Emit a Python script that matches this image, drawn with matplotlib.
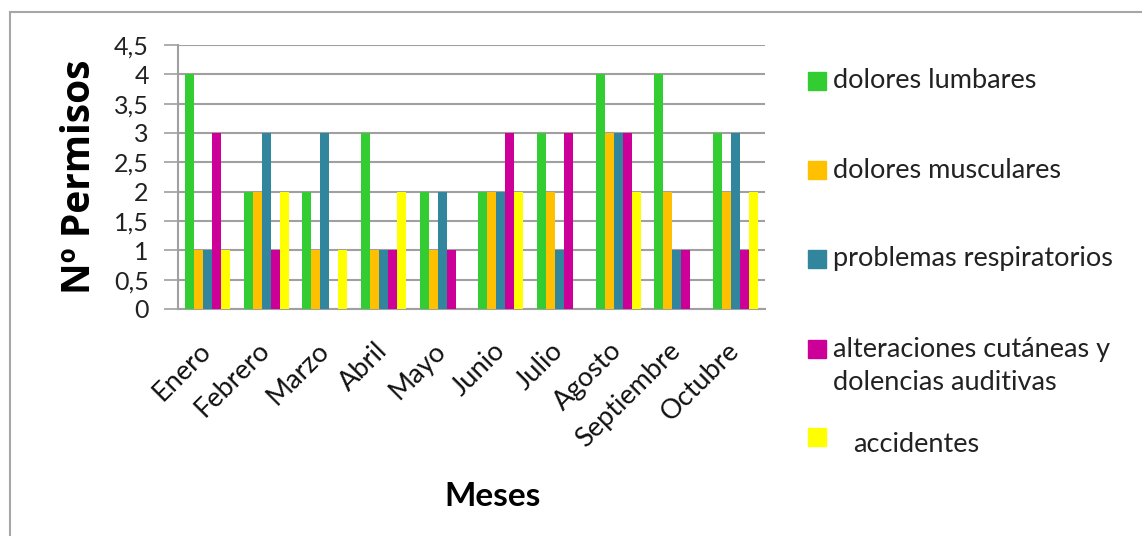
import numpy as np
import matplotlib
matplotlib.use("Agg")
import matplotlib.pyplot as plt
from matplotlib.patches import Rectangle
from matplotlib.lines import Line2D

plt.rcParams['font.family'] = ['Lato', 'DejaVu Sans']

# months and counts per category
meses = ['Enero', 'Febrero', 'Marzo', 'Abril', 'Mayo', 'Junio',
         'Julio', 'Agosto', 'Septiembre', 'Octubre']
dolores_lumbares = [4, 2, 2, 3, 2, 2, 3, 4, 4, 3]
dolores_musculares = [1, 2, 1, 1, 1, 2, 2, 3, 2, 2]
problemas_respiratorios = [1, 3, 3, 1, 2, 2, 1, 3, 1, 3]
alteraciones_cutaneas = [3, 1, 0, 1, 1, 3, 3, 3, 1, 1]
accidentes = [1, 2, 1, 2, 0, 2, 0, 2, 0, 2]

series_names = ['dolores lumbares', 'dolores musculares', 'problemas respiratorios',
                'alteraciones cutáneas y\ndolencias auditivas', 'accidentes']
series_vals = [dolores_lumbares, dolores_musculares, problemas_respiratorios,
               alteraciones_cutaneas, accidentes]
colors = ['#33CC33', '#FFC000', '#31859C', '#CC0099', '#FFFF00']

W, H = 1142, 536
fig = plt.figure(figsize=(W / 100, H / 100), dpi=100)
ax = fig.add_axes([178 / W, 1 - 309 / H, (765 - 178) / W, (309 - 45) / H])

x = np.arange(len(meses))
bw = 0.153
for i, (vals, c) in enumerate(zip(series_vals, colors)):
    ax.bar(x - 2 * bw + i * bw, vals, width=bw, color=c, zorder=3)

ax.set_xlim(-0.5, len(meses) - 0.5)
ax.set_ylim(0, 4.5)
yt = np.arange(0, 4.51, 0.5)
ax.set_yticks(yt)
ax.set_yticklabels([('%g' % v).replace('.', ',') for v in yt], fontsize=18, color='#222222')
ax.yaxis.grid(True, color='#A0A0A0', linewidth=1.5, zorder=0)
ax.tick_params(axis='y', length=10, width=1.2, color='#A0A0A0', pad=11)
ax.tick_params(axis='x', length=0, pad=27)
ax.set_xticks(x)
ax.set_xticklabels(meses, rotation=45, ha='right', va='center',
                   rotation_mode='anchor', fontsize=19.5, color='#111111')
for s in ['top', 'right']:
    ax.spines[s].set_visible(False)
for s in ['left', 'bottom']:
    ax.spines[s].set_color('#A0A0A0')
    ax.spines[s].set_linewidth(1.5)

fig.text(80 / W, 1 - 177 / H, 'Nº Permisos', fontsize=28, fontweight='bold',
         family=['Open Sans', 'DejaVu Sans'],
         rotation=90, ha='center', va='center', color='black')
fig.text(493 / W, 1 - 497 / H, 'Meses', fontsize=24, fontweight='bold',
         ha='center', va='center', color='black')

# legend drawn by hand (Excel style, spaced out)
leg_y = [81, 170, 259, 349, 437]
for name, c, yy in zip(series_names, colors, leg_y):
    fig.patches.append(Rectangle((808 / W, 1 - (yy + 9) / H), 18 / W, 18 / H,
                                 transform=fig.transFigure, color=c))
    tx = 853 if name == 'accidentes' else 833
    ty = yy + 7 if name == 'accidentes' else yy
    if '\n' in name:
        ty = yy - 12
    fig.text(tx / W, 1 - ty / H, name, fontsize=19.5, color='#222222',
             ha='left', va='center' if '\n' not in name else 'top',
             linespacing=1.42)

# outer frame (left and top visible)
fig.lines.append(Line2D([10 / W, 10 / W], [0, 1 - 12 / H], transform=fig.transFigure,
                        color='#A6A6A6', linewidth=1.5))
fig.lines.append(Line2D([10 / W, 1], [1 - 12 / H, 1 - 12 / H], transform=fig.transFigure,
                        color='#A6A6A6', linewidth=1.5))

fig.savefig('out.png', dpi=100)
